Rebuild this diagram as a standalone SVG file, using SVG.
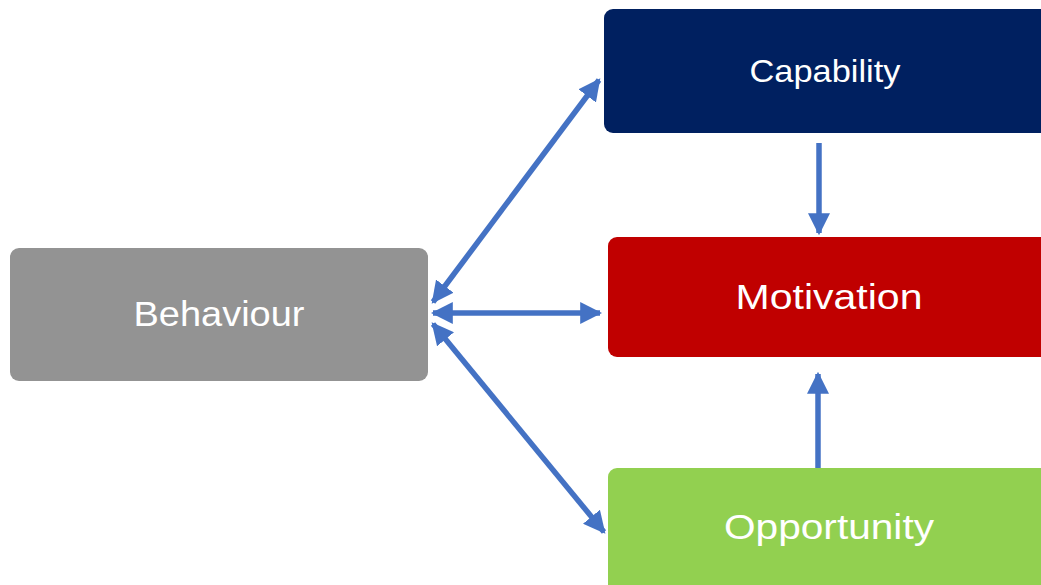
<svg xmlns="http://www.w3.org/2000/svg" width="1041" height="585" viewBox="0 0 1041 585">
<defs>
<marker id="ah" viewBox="0 0 10 10" refX="9" refY="5" markerWidth="4" markerHeight="4" markerUnits="strokeWidth" orient="auto-start-reverse">
<path d="M0,0 L10,5 L0,10 z" fill="#4472C4"/>
</marker>
<style>
.lbl{font-family:"Liberation Sans",Arial,sans-serif;fill:#ffffff;text-anchor:middle}
.c{stroke:#4472C4;stroke-width:5.5;fill:none}
</style>
</defs>
<rect width="1041" height="585" fill="#ffffff"/>
<g id="behaviour">
<rect x="10" y="248" width="418" height="133" rx="9" fill="#939393"/>
<text class="lbl" x="219" y="326" font-size="35" textLength="171" lengthAdjust="spacingAndGlyphs">Behaviour</text>
</g>
<g id="capability">
<rect x="604" y="9" width="450" height="124" rx="9" fill="#002060"/>
<text class="lbl" x="825" y="82" font-size="32" textLength="151" lengthAdjust="spacingAndGlyphs">Capability</text>
</g>
<g id="motivation">
<rect x="608" y="237" width="450" height="120" rx="9" fill="#C00000"/>
<text class="lbl" x="829" y="309" font-size="35" textLength="187" lengthAdjust="spacingAndGlyphs">Motivation</text>
</g>
<g id="opportunity">
<rect x="608" y="468" width="450" height="130" rx="9" fill="#92D050"/>
<text class="lbl" x="829" y="539" font-size="35" textLength="210" lengthAdjust="spacingAndGlyphs">Opportunity</text>
</g>
<g id="connectors">
<line class="c" x1="433" y1="302" x2="599" y2="80" marker-start="url(#ah)" marker-end="url(#ah)"/>
<line class="c" x1="433" y1="313" x2="600" y2="313" marker-start="url(#ah)" marker-end="url(#ah)"/>
<line class="c" x1="433" y1="324" x2="604" y2="532" marker-start="url(#ah)" marker-end="url(#ah)"/>
<line class="c" x1="819" y1="143" x2="819" y2="233" marker-end="url(#ah)"/>
<line class="c" x1="818" y1="468" x2="818" y2="374" marker-end="url(#ah)"/>
</g>
</svg>
